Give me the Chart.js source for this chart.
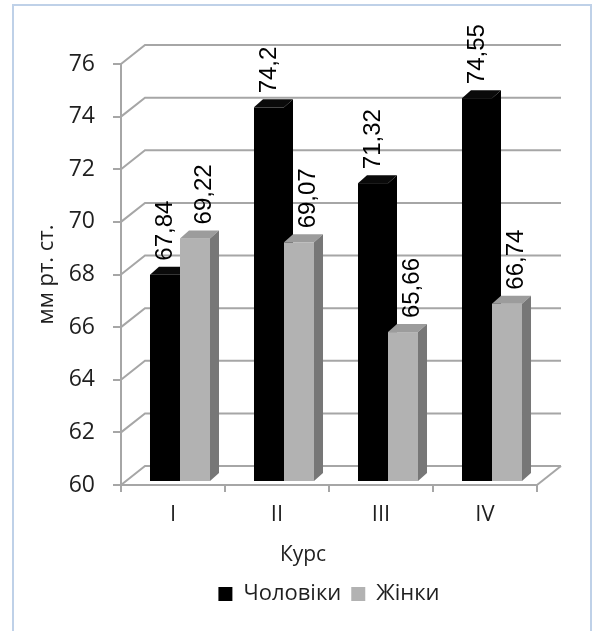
<!DOCTYPE html>
<html>
<head>
<meta charset="utf-8">
<script src="https://cdn.jsdelivr.net/npm/chart.js@4.4.1/dist/chart.umd.min.js"></script>
<style>
  html, body { margin: 0; padding: 0; background: #fff; }
  #wrap { position: relative; width: 600px; height: 631px; overflow: hidden; }
  #frame { position: absolute; left: 12px; top: 4px; width: 580px; height: 660px; border: 2px solid #bfd1e8; box-sizing: border-box; }
  #chart { position: absolute; left: 0; top: 0; }
</style>
</head>
<body>
<div id="wrap">
  <div id="frame"></div>
  <canvas id="chart" width="600" height="631"></canvas>
</div>
<script>
// Chart data
const categories = ["I", "II", "III", "IV"];
const seriesNames = ["Чоловіки", "Жінки"];
const menValues = [67.84, 74.2, 71.32, 74.55];
const womenValues = [69.22, 69.07, 65.66, 66.74];
const yMin = 60, yMax = 76, yStep = 2;
const xTitle = "Курс";
const yTitle = "мм рт. ст.";

// 3D look
const WALL_DX = 24, WALL_DY = -19;   // back wall offset
const BAR_DX = 7, BAR_DY = -4;       // bar front plane offset
const BOX_DX = 9, BOX_DY = -8;       // bar depth
const GRID = "#a6a6a6";
const TEXT = "#1f1f1f";
const FAMILY = "'Open Sans', 'Noto Sans', sans-serif";

const barFaces = [
    { front: "#000000", top: "#0a0a0a", side: "#000000", labelShift: 0 },
    { front: "#b2b2b2", top: "#9c9c9c", side: "#777777", labelShift: 9 },
];

function fmt(v) {
    return String(v).replace(".", ",");
}

function drawBox(ctx, x0, x1, yTop, yBot, c) {
    ctx.fillStyle = c.front;
    ctx.fillRect(x0, yTop, x1 - x0, yBot - yTop);

    ctx.fillStyle = c.top;
    ctx.beginPath();
    ctx.moveTo(x0, yTop);
    ctx.lineTo(x0 + BOX_DX, yTop + BOX_DY);
    ctx.lineTo(x1 + BOX_DX, yTop + BOX_DY);
    ctx.lineTo(x1, yTop);
    ctx.closePath();
    ctx.fill();

    ctx.fillStyle = c.side;
    ctx.beginPath();
    ctx.moveTo(x1, yTop);
    ctx.lineTo(x1 + BOX_DX, yTop + BOX_DY);
    ctx.lineTo(x1 + BOX_DX, yBot + BOX_DY);
    ctx.lineTo(x1, yBot);
    ctx.closePath();
    ctx.fill();
}

// Draw walls, 3D bars and value labels
const bars3d = {
    id: "bars3d",
    beforeDatasetsDraw(chart) {
        const { ctx, chartArea: a, scales: { y } } = chart;
        ctx.save();

        // back wall gridlines + left wall diagonals
        ctx.strokeStyle = GRID;
        ctx.lineWidth = 2;
        y.ticks.forEach(t => {
            const py = y.getPixelForValue(t.value);
            ctx.beginPath();
            ctx.moveTo(a.left, py);
            ctx.lineTo(a.left + WALL_DX, py + WALL_DY);
            ctx.lineTo(a.right + WALL_DX, py + WALL_DY);
            ctx.stroke();
        });
        // floor right edge
        ctx.beginPath();
        ctx.moveTo(a.right, a.bottom);
        ctx.lineTo(a.right + WALL_DX, a.bottom + WALL_DY);
        ctx.stroke();

        // bars, left to right
        const basePx = y.getPixelForValue(yMin);
        const labels = [];
        categories.forEach((cat, i) => {
            chart.data.datasets.forEach((ds, d) => {
                const el = chart.getDatasetMeta(d).data[i];
                const x0 = el.x - el.width / 2 + BAR_DX;
                const x1 = el.x + el.width / 2 + BAR_DX;
                const yTop = y.getPixelForValue(ds.data[i]) + BAR_DY;
                const yBot = basePx + BAR_DY;
                drawBox(ctx, x0, x1, yTop, yBot, barFaces[d]);
                labels.push({
                    text: fmt(ds.data[i]),
                    x: (x0 + x1) / 2 + barFaces[d].labelShift,
                    y: yTop - 14,
                });
            });
        });

        // rotated value labels
        ctx.fillStyle = "#000";
        ctx.font = "24px 'Liberation Sans', Arial, sans-serif";
        ctx.textAlign = "left";
        ctx.textBaseline = "middle";
        labels.forEach(l => {
            ctx.save();
            ctx.translate(l.x, l.y);
            ctx.rotate(-Math.PI / 2);
            ctx.fillText(l.text, 0, 0);
            ctx.restore();
        });

        // x axis title (sits a bit left of the plot centre)
        ctx.fillStyle = TEXT;
        ctx.font = "21px " + FAMILY;
        ctx.textAlign = "center";
        ctx.fillText(xTitle, (a.left + a.right) / 2 - 26, a.bottom + 70);

        ctx.restore();
        return false;
    }
};

new Chart(document.getElementById("chart"), {
    type: "bar",
    data: {
        labels: categories,
        datasets: [
            { label: seriesNames[0], data: menValues, backgroundColor: "#000000", borderWidth: 0 },
            { label: seriesNames[1], data: womenValues, backgroundColor: "#b2b2b2", borderWidth: 0 },
        ]
    },
    options: {
        responsive: false,
        devicePixelRatio: 1,
        animation: false,
        categoryPercentage: 0.577,
        barPercentage: 1,
        layout: { padding: { left: 18, right: 63, top: 64, bottom: 16 } },
        scales: {
            x: {
                grid: { offset: true, drawOnChartArea: false, drawTicks: true, tickLength: 7, color: GRID, lineWidth: 2 },
                border: { color: GRID, width: 2 },
                ticks: { color: TEXT, font: { family: FAMILY, size: 22 }, padding: 10 },
                afterFit: axis => { axis.height = 88; },
            },
            y: {
                min: yMin,
                max: yMax,
                grid: { drawOnChartArea: false, drawTicks: true, tickLength: 8, color: GRID, lineWidth: 2 },
                border: { color: GRID, width: 2 },
                ticks: { stepSize: yStep, color: TEXT, font: { family: FAMILY, size: 23 }, padding: 18 },
                title: { display: true, text: yTitle, color: TEXT, font: { family: FAMILY, size: 22 }, padding: { top: 16, bottom: 0 } },
                afterFit: axis => { axis.width = 103; },
            }
        },
        plugins: {
            legend: {
                position: "bottom",
                fullSize: false,
                labels: {
                    boxWidth: 14,
                    boxHeight: 14,
                    padding: 10,
                    color: TEXT,
                    font: { family: FAMILY, size: 22 },
                }
            },
            tooltip: { enabled: false },
        },
    },
    plugins: [bars3d],
});
</script>
</body>
</html>
